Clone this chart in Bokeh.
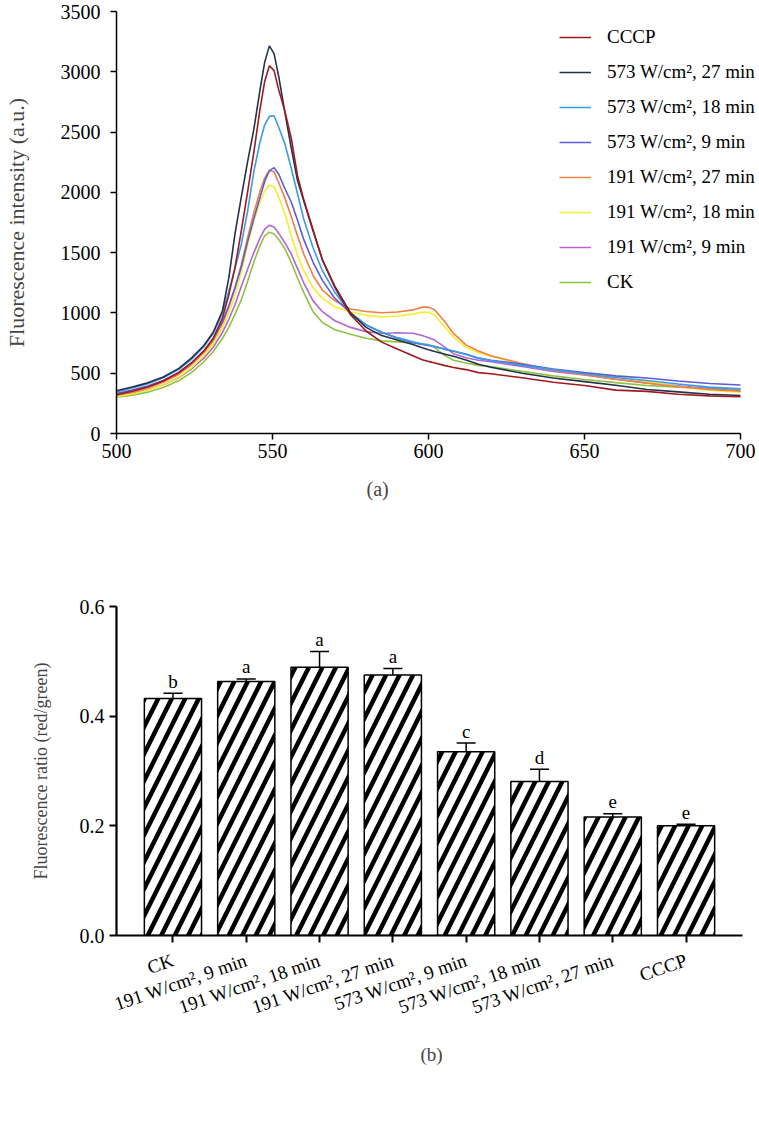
from bokeh.plotting import figure
from bokeh.models import (Range1d, FactorRange, Legend, LegendItem, Title, ColumnDataSource,
                          Whisker, TeeHead, FixedTicker, NumeralTickFormatter)
from bokeh.layouts import column
from bokeh.embed import file_html
from bokeh.resources import INLINE
from bokeh.core.properties import value

FONT = "Liberation Serif"

# ---------------- (a) spectra ----------------
wavelength = [500, 505, 510, 515, 520, 524, 528, 531, 534, 536, 538, 540, 542, 544, 546, 547.5, 549, 550.5,
              552, 554, 556, 558, 560, 563, 566, 570, 575, 580, 585, 590, 595, 598, 600, 602, 605, 608,
              612, 616, 620, 630, 640, 650, 660, 670, 680, 690, 700]

cccp = [322, 350, 385, 435, 505, 585, 685, 790, 960, 1150, 1380, 1680, 2000, 2330, 2690, 2920, 3050, 3010,
        2850, 2670, 2450, 2140, 1940, 1690, 1440, 1210, 985, 850, 758, 700, 645, 612, 598, 585, 565, 547,
        530, 505, 495, 462, 425, 398, 360, 349, 325, 312, 305]
w573_27 = [355, 385, 420, 468, 540, 625, 730, 840, 1020, 1290, 1660, 1960, 2250, 2520, 2850, 3080, 3215, 3150,
           2960, 2660, 2370, 2100, 1930, 1680, 1440, 1220, 1000, 880, 812, 775, 738, 712, 695, 680, 660, 640,
           610, 575, 550, 500, 460, 430, 400, 365, 345, 325, 315]
w573_18 = [345, 378, 412, 462, 532, 615, 720, 830, 1000, 1180, 1370, 1570, 1840, 2170, 2420, 2560, 2630, 2635,
           2540, 2400, 2200, 1990, 1780, 1540, 1350, 1170, 1000, 900, 840, 795, 760, 742, 732, 720, 702, 685,
           655, 625, 605, 565, 530, 495, 465, 440, 410, 385, 370]
w573_9 = [332, 360, 393, 440, 508, 585, 685, 785, 930, 1060, 1210, 1380, 1590, 1780, 1960, 2090, 2180, 2205,
          2150, 2030, 1920, 1770, 1610, 1420, 1270, 1120, 1000, 900, 840, 790, 755, 738, 730, 722, 700, 682,
          660, 625, 608, 575, 535, 505, 478, 460, 435, 415, 402]
w191_27 = [322, 345, 377, 425, 492, 570, 670, 770, 915, 1050, 1210, 1400, 1620, 1830, 2010, 2120, 2182, 2170,
           2080, 1950, 1800, 1640, 1490, 1310, 1190, 1100, 1032, 1012, 1002, 1008, 1025, 1048, 1048, 1025, 935, 830,
           735, 685, 645, 580, 525, 488, 450, 418, 388, 365, 350]
w191_18 = [305, 328, 358, 405, 470, 545, 645, 745, 880, 1000, 1150, 1340, 1560, 1760, 1920, 2010, 2062, 2045,
           1960, 1820, 1640, 1480, 1350, 1210, 1120, 1050, 1010, 980, 966, 975, 990, 1008, 1005, 980, 890, 800,
           715, 672, 640, 575, 528, 500, 473, 430, 390, 360, 342]
w191_9 = [312, 335, 363, 405, 465, 535, 625, 715, 840, 945, 1070, 1220, 1360, 1500, 1620, 1695, 1728, 1712,
          1660, 1580, 1490, 1370, 1250, 1100, 1010, 935, 880, 845, 830, 835, 832, 812, 795, 775, 720, 662,
          628, 607, 595, 555, 515, 485, 450, 420, 395, 370, 355]
ck = [300, 318, 343, 382, 440, 505, 595, 680, 790, 880, 990, 1110, 1260, 1420, 1560, 1640, 1670, 1655,
      1610, 1530, 1420, 1290, 1170, 1010, 920, 860, 823, 790, 768, 760, 750, 745, 738, 712, 650, 608,
      585, 565, 555, 515, 478, 448, 422, 398, 385, 375, 368]

series_names = ["CCCP", "573 W/cm², 27 min", "573 W/cm², 18 min", "573 W/cm², 9 min",
                "191 W/cm², 27 min", "191 W/cm², 18 min", "191 W/cm², 9 min", "CK"]
series_values = [cccp, w573_27, w573_18, w573_9, w191_27, w191_18, w191_9, ck]
series_colors = ["#9E1A1E", "#25314A", "#3A9BE3", "#5D5CD8", "#EE7F45", "#F4EE2E", "#B465D6", "#8DC43F"]

x_ticks_a = [500, 550, 600, 650, 700]
y_ticks_a = [0, 500, 1000, 1500, 2000, 2500, 3000, 3500]

p1 = figure(frame_width=641, frame_height=422, output_backend="svg", toolbar_location=None,
            x_range=Range1d(500, 705.45), y_range=Range1d(0, 3500),
            min_border_left=113, min_border_right=0, min_border_top=11, min_border_bottom=107)

draw_order = [7, 6, 5, 4, 3, 2, 1, 0]
renderers = {}
for i in draw_order:
    renderers[i] = p1.line(wavelength, series_values[i], line_color=series_colors[i], line_width=1.6)
items = [LegendItem(label=series_names[i], renderers=[renderers[i]]) for i in range(len(series_names))]

legend = Legend(items=items, location=(443, 140), border_line_color=None, background_fill_alpha=0,
                padding=0, margin=0, spacing=13, glyph_width=32, glyph_height=20, label_height=20,
                label_standoff=16, label_text_font=FONT, label_text_font_size="19px",
                label_text_color="black")
p1.add_layout(legend)

p1.xgrid.visible = False
p1.ygrid.visible = False
p1.outline_line_color = None
p1.xaxis.ticker = FixedTicker(ticks=x_ticks_a)
p1.xaxis.bounds = (500, 700)
p1.yaxis.ticker = FixedTicker(ticks=y_ticks_a)
for ax in [p1.xaxis[0], p1.yaxis[0]]:
    ax.axis_line_width = 1.5
    ax.axis_line_color = "black"
    ax.major_tick_in = 0
    ax.major_tick_out = 6
    ax.major_tick_line_width = 1.5
    ax.minor_tick_line_color = None
    ax.major_label_text_font = FONT
    ax.major_label_text_font_size = "20px"
    ax.major_label_text_color = "black"
p1.xaxis.major_label_standoff = 4
p1.yaxis.major_label_standoff = 10
p1.yaxis.axis_label = "Fluorescence intensity (a.u.)"
p1.yaxis.axis_label_text_font = FONT
p1.yaxis.axis_label_text_font_size = "22px"
p1.yaxis.axis_label_text_font_style = "normal"
p1.yaxis.axis_label_standoff = 29

p1.add_layout(Title(text="(a)", align="left", offset=250, text_font=FONT, text_font_size="20px",
                    text_font_style="normal", standoff=31), "below")

# ---------------- (b) ratio bars ----------------
categories = ["CK", "191 W/cm², 9 min", "191 W/cm², 18 min", "191 W/cm², 27 min",
              "573 W/cm², 9 min", "573 W/cm², 18 min", "573 W/cm², 27 min", "CCCP"]
ratio = [0.432, 0.463, 0.489, 0.475, 0.335, 0.281, 0.216, 0.200]
ratio_err = [0.010, 0.005, 0.029, 0.012, 0.016, 0.022, 0.006, 0.003]
letters = ["b", "a", "a", "a", "c", "d", "e", "e"]
y_ticks_b = [0.0, 0.2, 0.4, 0.6]

src = ColumnDataSource(dict(
    x=categories, top=ratio,
    upper=[v + e for v, e in zip(ratio, ratio_err)],
    lower=[v - e for v, e in zip(ratio, ratio_err)],
    letter=letters))

p2 = figure(frame_width=626, frame_height=329, output_backend="svg", toolbar_location=None,
            x_range=FactorRange(factors=categories, range_padding=0.27, range_padding_units="absolute"),
            y_range=Range1d(0, 0.6),
            min_border_left=113, min_border_right=16, min_border_top=66, min_border_bottom=140)

p2.vbar(x="x", top="top", width=0.78, source=src, fill_color="white", line_color="black",
        line_width=1.5, hatch_pattern="/", hatch_color="black", hatch_weight=4.5, hatch_scale=27)
p2.add_layout(Whisker(base="x", upper="upper", lower="lower", source=src, line_color="black",
                      line_width=1.5,
                      upper_head=TeeHead(size=19, line_color="black", line_width=1.5),
                      lower_head=TeeHead(size=19, line_color="black", line_width=1.5)))
p2.text(x="x", y="upper", text="letter", source=src, text_align="center", text_baseline="alphabetic",
        y_offset=-12, text_font=value(FONT), text_font_size="19px", text_color="black")

p2.xgrid.visible = False
p2.ygrid.visible = False
p2.outline_line_color = None
p2.yaxis.ticker = FixedTicker(ticks=y_ticks_b)
p2.yaxis.formatter = NumeralTickFormatter(format="0.0")
for ax in [p2.xaxis[0], p2.yaxis[0]]:
    ax.axis_line_width = 2.2
    ax.axis_line_color = "black"
    ax.major_tick_in = 0
    ax.major_tick_out = 7
    ax.major_tick_line_width = 2
    ax.minor_tick_line_color = None
    ax.major_label_text_font = FONT
    ax.major_label_text_color = "black"
p2.yaxis.major_label_text_font_size = "20px"
p2.xaxis.major_label_text_font_size = "19px"
p2.yaxis.major_label_standoff = 5
p2.xaxis.major_label_standoff = 17
p2.xaxis.major_label_orientation = 0.33
p2.yaxis.axis_label = "Fluorescence ratio (red/green)"
p2.yaxis.axis_label_text_font = FONT
p2.yaxis.axis_label_text_font_size = "18px"
p2.yaxis.axis_label_text_font_style = "normal"
p2.yaxis.axis_label_standoff = 26

p2.add_layout(Title(text="(b)", align="left", offset=304, text_font=FONT, text_font_size="19px",
                    text_font_style="normal", standoff=22), "below")

layout = column(p1, p2, spacing=0)
open("out.html", "w").write(file_html(layout, INLINE))
